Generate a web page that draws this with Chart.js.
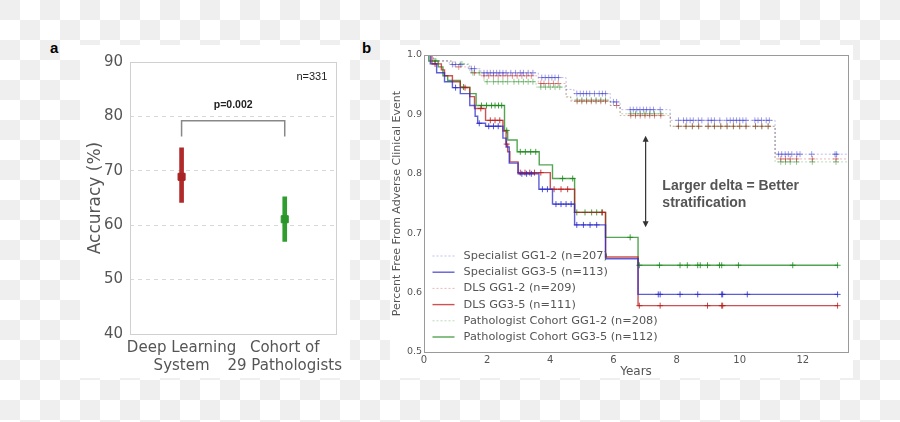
<!DOCTYPE html>
<html lang="en">
  <head>
    <meta charset="UTF-8" />
    <title>Accuracy and clinical event-free survival</title>
    <style>
      body {
        margin: 0;
        width: 900px;
        height: 422px;
        position: relative;
        overflow: hidden;
        background: repeating-conic-gradient(#efefef 0% 25%, #ffffff 0% 50%) 20px 0 / 40px 40px;
      }

      .panel {
        position: absolute;
        background: #fff;
      }

      .tag {
        position: absolute;
        font: bold 15px "Liberation Sans", Arial, sans-serif;
        color: #000;
      }

      canvas {
        position: absolute;
      }
    </style>
    <script src="https://cdn.jsdelivr.net/npm/chart.js"></script>
  </head>
  <body>
    <div class="panel" style="left: 80px; top: 45px; width: 270px; height: 333px"></div>
    <div class="panel" style="left: 390px; top: 45px; width: 463px; height: 333px"></div>
    <div class="tag" style="left: 50px; top: 39px">a</div>
    <div class="tag" style="left: 362px; top: 39px">b</div>

    <canvas id="accChart" width="280" height="345" style="left: 70px; top: 40px"></canvas>
    <canvas id="kmChart" width="465" height="340" style="left: 390px; top: 40px"></canvas>

    <script>
      // ---- panel a: accuracy ----
      const groupLabels = [['Deep Learning', 'System'], ['Cohort of', '29 Pathologists']];
      const accuracyMean = [68.9, 61.1];
      const accuracyLow = [64.2, 57.0];
      const accuracyHigh = [74.2, 65.2];
      const accTicks = [40, 50, 60, 70, 80, 90];
      const pValueText = 'p=0.002';
      const sampleText = 'n=331';

      // ---- panel b: Kaplan-Meier curves (years, fraction event free) ----
      const curveLabels = [
        'Specialist GG1-2 (n=207)',
        'Specialist GG3-5 (n=113)',
        'DLS GG1-2 (n=209)',
        'DLS GG3-5 (n=111)',
        'Pathologist Cohort GG1-2 (n=208)',
        'Pathologist Cohort GG3-5 (n=112)',
      ];

      const specLowT = [0, 0.3, 0.8, 1.4, 1.8, 3.62, 4.5, 4.75, 5.9, 6.21, 7.8, 11.12, 13.43];
      const specLowS = [1, 0.99, 0.984, 0.977, 0.97, 0.962, 0.942, 0.935, 0.921, 0.908, 0.89, 0.833, 0.833];
      const specLowC = [0.9, 1.0, 1.15, 1.5, 1.6, 1.9, 2.0, 2.1, 2.2, 2.3, 2.4, 2.5, 2.6, 2.75, 2.9, 3.05, 3.15, 3.3, 3.45,
        3.73, 3.84, 3.95, 4.05, 4.15, 4.26, 4.84, 4.95, 5.05, 5.15, 5.25, 5.4, 5.55, 5.65, 5.75, 6.0, 6.1, 6.53, 6.63,
        6.74, 6.84, 6.95, 7.05, 7.16, 7.27, 7.48, 8.06, 8.22, 8.32, 8.43, 8.53, 8.69, 8.8, 9.0, 9.1, 9.2, 9.37, 9.59,
        9.7, 9.8, 9.9, 10.0, 10.1, 10.2, 10.48, 10.58, 10.69, 10.84, 10.94, 11.23, 11.33, 11.44, 11.54, 11.65, 11.81,
        11.91, 12.28, 13.02, 13.07];

      const specHighT = [0, 0.2, 0.4, 0.65, 0.9, 1.15, 1.45, 1.62, 1.7, 1.95, 2.5, 2.6, 2.7, 2.98, 3.64, 4.07, 4.77, 5.75, 6.78, 13.1];
      const specHighS = [1, 0.985, 0.97, 0.955, 0.945, 0.935, 0.915, 0.897, 0.885, 0.88, 0.86, 0.845, 0.818, 0.8, 0.774, 0.749, 0.714, 0.657, 0.597, 0.597];
      const specHighC = [1.0, 1.75, 2.05, 2.2, 2.35, 3.1, 3.25, 3.4, 3.75, 3.91, 4.18, 4.34, 4.5, 4.66, 4.84, 5.05, 5.26,
        5.47, 7.42, 7.48, 8.11, 8.67, 9.43, 9.46, 10.24, 13.1];

      const dlsLowT = [0, 0.3, 0.95, 1.5, 1.8, 3.62, 4.5, 4.65, 5.9, 6.21, 7.8, 11.12, 13.43];
      const dlsLowS = [1, 0.99, 0.98, 0.97, 0.965, 0.952, 0.929, 0.922, 0.915, 0.898, 0.88, 0.825, 0.825];
      const dlsLowC = [1.1, 1.6, 1.9, 2.05, 2.2, 2.35, 2.5, 2.65, 2.8, 2.95, 3.1, 3.25, 3.4, 3.7, 3.8, 3.95, 4.1, 4.25,
        4.85, 5.0, 5.15, 5.3, 5.45, 5.6, 5.75, 6.1, 6.55, 6.7, 6.85, 7.0, 7.15, 7.3, 7.5, 8.06, 8.3, 8.5, 8.7, 9.0, 9.2,
        9.4, 9.6, 9.8, 10.0, 10.2, 10.5, 10.7, 10.9, 11.3, 11.45, 11.6, 11.8, 12.3, 13.05];

      const dlsHighT = [0, 0.25, 0.55, 0.65, 0.9, 1.15, 1.45, 1.6, 1.95, 2.5, 2.6, 2.65, 2.72, 2.98, 4.0, 4.77, 5.75, 6.78, 13.1];
      const dlsHighS = [1, 0.985, 0.975, 0.965, 0.955, 0.945, 0.93, 0.91, 0.89, 0.872, 0.85, 0.837, 0.82, 0.802, 0.774, 0.735, 0.66, 0.578, 0.578];
      const dlsHighC = [0.35, 1.3, 1.8, 2.1, 2.25, 2.4, 2.62, 3.05, 3.2, 3.35, 3.5, 3.7, 4.12, 4.34, 4.55, 5.65, 6.82,
        7.48, 8.98, 9.43, 9.46, 13.1];

      const pathLowT = [0, 0.4, 0.85, 1.45, 1.9, 3.55, 4.5, 4.65, 5.9, 6.21, 7.8, 11.12, 13.43];
      const pathLowS = [1, 0.99, 0.985, 0.97, 0.955, 0.946, 0.93, 0.924, 0.915, 0.901, 0.88, 0.82, 0.82];
      const pathLowC = [1.2, 1.55, 1.75, 2.0, 2.2, 2.35, 2.5, 2.65, 2.85, 3.0, 3.15, 3.3, 3.45, 3.7, 3.85, 4.0, 4.15,
        4.3, 4.85, 5.0, 5.15, 5.3, 5.45, 5.6, 5.75, 6.55, 6.7, 6.85, 7.0, 7.15, 7.3, 7.5, 8.06, 8.3, 8.5, 8.7, 9.0, 9.2,
        9.4, 9.6, 9.8, 10.0, 10.2, 10.5, 10.7, 10.9, 11.3, 11.45, 11.6, 11.8, 12.3, 13.05];

      const pathHighT = [0, 0.15, 0.45, 0.6, 0.75, 1.15, 1.45, 1.65, 2.55, 2.65, 2.95, 3.65, 4.07, 4.77, 5.75, 6.78, 13.1];
      const pathHighS = [1, 0.99, 0.98, 0.965, 0.957, 0.946, 0.935, 0.915, 0.873, 0.857, 0.837, 0.815, 0.792, 0.735, 0.693, 0.646, 0.646];
      const pathHighC = [0.35, 1.25, 1.82, 1.98, 2.14, 2.25, 2.36, 2.46, 2.62, 3.05, 3.21, 3.38, 3.54, 4.39, 4.71,
        4.84, 5.1, 5.31, 5.47, 5.63, 6.53, 6.82, 7.46, 8.11, 8.34, 8.67, 8.75, 8.98, 9.36, 9.43, 9.96, 11.68, 13.1];

      const yearMax = 13.43;
      const yearTicks = [0, 2, 4, 6, 8, 10, 12];
      const survTicks = [0.5, 0.6, 0.7, 0.8, 0.9, 1.0];
      const noteLines = ['Larger delta = Better', 'stratification'];

      Chart.defaults.font.family = '"DejaVu Sans", sans-serif';

      // light box around the plotting area
      const framePlugin = {
        id: 'frame',
        afterDraw(chart, args, opts) {
          const { ctx, chartArea: a } = chart;
          ctx.save();
          ctx.strokeStyle = opts.color || '#999';
          ctx.lineWidth = 1;
          ctx.strokeRect(Math.round(a.left) + 0.5, Math.round(a.top) + 0.5, Math.round(a.width), Math.round(a.height));
          ctx.restore();
        },
      };

      // significance bracket and sample size
      const bracketPlugin = {
        id: 'bracket',
        afterDatasetsDraw(chart) {
          const { ctx, chartArea, scales: { x, y } } = chart;
          const x0 = x.getPixelForValue(0);
          const x1 = x.getPixelForValue(1);
          const yt = y.getPixelForValue(79.2);
          const yb = y.getPixelForValue(76.3);
          ctx.save();
          ctx.strokeStyle = '#888';
          ctx.lineWidth = 1.5;
          ctx.beginPath();
          ctx.moveTo(x0, yb);
          ctx.lineTo(x0, yt);
          ctx.lineTo(x1, yt);
          ctx.lineTo(x1, yb);
          ctx.stroke();
          ctx.fillStyle = '#222';
          ctx.textBaseline = 'middle';
          ctx.textAlign = 'center';
          ctx.font = 'bold 10.5px "Liberation Sans", Arial, sans-serif';
          ctx.fillText(pValueText, (x0 + x1) / 2, y.getPixelForValue(82));
          ctx.textAlign = 'right';
          ctx.font = '11px "Liberation Sans", Arial, sans-serif';
          ctx.fillText(sampleText, chartArea.right - 9, y.getPixelForValue(87.3));
          ctx.restore();
        },
      };

      new Chart(document.getElementById('accChart'), {
        type: 'bar',
        data: {
          labels: groupLabels,
          datasets: [
            {
              data: accuracyLow.map((lo, i) => [lo, accuracyHigh[i]]),
              backgroundColor: ['#b02a2a', '#2f9e2f'],
              barThickness: 4,
              order: 2,
            },
            {
              type: 'line',
              data: accuracyMean,
              showLine: false,
              pointStyle: 'rect',
              pointRadius: 5,
              pointBackgroundColor: ['#a82424', '#2a962a'],
              pointBorderColor: ['#a82424', '#2a962a'],
              order: 1,
            },
          ],
        },
        options: {
          responsive: false,
          animation: false,
          devicePixelRatio: 1,
          layout: { padding: { left: 0, right: 12, top: 22, bottom: 0 } },
          plugins: {
            legend: { display: false },
            tooltip: { enabled: false },
            frame: { color: '#d0d0d0' },
          },
          scales: {
            x: {
              offset: true,
              grid: { display: false, drawTicks: false },
              border: { display: false },
              ticks: { color: '#555', font: { size: 15 }, padding: 5, maxRotation: 0, autoSkip: false },
              afterFit: (s) => { s.height = 51; },
            },
            y: {
              min: 40,
              max: 90,
              afterBuildTicks: (s) => { s.ticks = accTicks.map((v) => ({ value: v })); },
              ticks: { color: '#555', font: { size: 15 }, padding: 7 },
              grid: {
                drawTicks: false,
                color: (c) => (c.tick && (c.tick.value === 40 || c.tick.value === 90) ? 'rgba(0,0,0,0)' : '#d8d8d8'),
              },
              border: { display: false, dash: [4, 4] },
              title: { display: true, text: 'Accuracy (%)', color: '#555', font: { size: 17 }, padding: { top: 15, bottom: 0 } },
              afterFit: (s) => { s.width = 60; },
            },
          },
        },
        plugins: [framePlugin, bracketPlugin],
      });

      // value of a step curve at time t
      function stepValue(times, surv, t) {
        let v = surv[0];
        for (let i = 0; i < times.length; i++) {
          if (times[i] <= t) v = surv[i];
        }
        return v;
      }

      const blue = 'rgba(40,40,200,';
      const red = 'rgba(185,25,25,';
      const green = 'rgba(25,135,25,';

      const kmSeries = [
        { t: specHighT, s: specHighS, c: specHighC, col: blue, low: false, row: 1 },
        { t: dlsHighT, s: dlsHighS, c: dlsHighC, col: red, low: false, row: 3 },
        { t: pathHighT, s: pathHighS, c: pathHighC, col: green, low: false, row: 5 },
        { t: specLowT, s: specLowS, c: specLowC, col: blue, low: true, row: 0 },
        { t: dlsLowT, s: dlsLowS, c: dlsLowC, col: red, low: true, row: 2 },
        { t: pathLowT, s: pathLowS, c: pathLowC, col: green, low: true, row: 4 },
      ];

      const kmDatasets = [];
      kmSeries.forEach((k) => {
        kmDatasets.push({
          label: curveLabels[k.row],
          legendRow: k.row,
          data: k.t.map((t, i) => ({ x: t, y: k.s[i] })),
          showLine: true,
          stepped: true,
          borderColor: k.col + (k.low ? '0.3)' : '0.75)'),
          borderWidth: k.low ? 1 : 1.4,
          borderDash: k.low ? [2, 2] : [],
          pointRadius: 0,
        });
        kmDatasets.push({
          data: k.c.map((t) => ({ x: t, y: stepValue(k.t, k.s, t) })),
          showLine: false,
          pointStyle: 'cross',
          pointRadius: 3,
          borderColor: k.col + (k.low ? '0.45)' : '0.8)'),
          pointBorderColor: k.col + (k.low ? '0.45)' : '0.8)'),
          pointBorderWidth: 1,
        });
      });

      // arrow, note and in-plot legend
      const kmPlugin = {
        id: 'kmExtras',
        afterDatasetsDraw(chart) {
          const { ctx, chartArea: a, scales: { x, y } } = chart;
          ctx.save();
          const ax = x.getPixelForValue(7.02);
          const ay0 = y.getPixelForValue(0.864);
          const ay1 = y.getPixelForValue(0.71);
          ctx.strokeStyle = '#333';
          ctx.fillStyle = '#333';
          ctx.lineWidth = 1.2;
          ctx.beginPath();
          ctx.moveTo(ax, ay0 + 4);
          ctx.lineTo(ax, ay1 - 4);
          ctx.stroke();
          ctx.beginPath();
          ctx.moveTo(ax, ay0);
          ctx.lineTo(ax - 3, ay0 + 6);
          ctx.lineTo(ax + 3, ay0 + 6);
          ctx.fill();
          ctx.beginPath();
          ctx.moveTo(ax, ay1);
          ctx.lineTo(ax - 3, ay1 - 6);
          ctx.lineTo(ax + 3, ay1 - 6);
          ctx.fill();

          ctx.fillStyle = '#555';
          ctx.font = 'bold 14px "Liberation Sans", Arial, sans-serif';
          ctx.textAlign = 'left';
          ctx.textBaseline = 'middle';
          ctx.fillText(noteLines[0], x.getPixelForValue(7.55), y.getPixelForValue(0.779));
          ctx.fillText(noteLines[1], x.getPixelForValue(7.55), y.getPixelForValue(0.75));

          ctx.font = '11.3px "DejaVu Sans", sans-serif';
          const rows = chart.data.datasets.filter((d) => d.legendRow !== undefined);
          rows.forEach((d) => {
            const ry = a.bottom - 15 - (rows.length - 1 - d.legendRow) * 16.2;
            ctx.strokeStyle = d.borderColor;
            ctx.lineWidth = d.borderWidth;
            ctx.setLineDash(d.borderDash);
            ctx.beginPath();
            ctx.moveTo(a.left + 8.5, ry);
            ctx.lineTo(a.left + 30.5, ry);
            ctx.stroke();
            ctx.setLineDash([]);
            ctx.fillStyle = '#555';
            ctx.fillText(d.label, a.left + 39.6, ry);
          });
          ctx.restore();
        },
      };

      new Chart(document.getElementById('kmChart'), {
        type: 'scatter',
        data: { datasets: kmDatasets },
        options: {
          responsive: false,
          animation: false,
          devicePixelRatio: 1,
          layout: { padding: { left: 0, right: 7, top: 15, bottom: 0 } },
          plugins: {
            legend: { display: false },
            tooltip: { enabled: false },
            frame: { color: '#9a9a9a' },
          },
          scales: {
            x: {
              type: 'linear',
              min: 0,
              max: yearMax,
              afterBuildTicks: (s) => { s.ticks = yearTicks.map((v) => ({ value: v })); },
              ticks: { color: '#555', font: { size: 10 }, padding: 2 },
              grid: { display: false, drawTicks: false },
              border: { display: false },
              title: { display: true, text: 'Years', color: '#555', font: { size: 12 }, padding: { top: 0, bottom: 1 } },
              afterFit: (s) => { s.height = 28; },
            },
            y: {
              min: 0.5,
              max: 1.0,
              afterBuildTicks: (s) => { s.ticks = survTicks.map((v) => ({ value: v })); },
              ticks: { color: '#555', font: { size: 9.5 }, padding: 2, callback: (v) => v.toFixed(1) },
              grid: { display: false, drawTicks: false },
              border: { display: false },
              title: {
                display: true,
                text: 'Percent Free From Adverse Clinical Event',
                color: '#555',
                font: { size: 11 },
                padding: { top: 1, bottom: 0 },
              },
              afterFit: (s) => { s.width = 34; },
            },
          },
        },
        plugins: [framePlugin, kmPlugin],
      });
    </script>
  </body>
</html>
